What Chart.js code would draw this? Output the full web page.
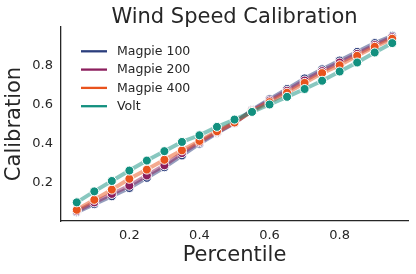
<!DOCTYPE html>
<html><head><meta charset="utf-8">
<script src="https://cdn.jsdelivr.net/npm/chart.js@4.4.1/dist/chart.umd.min.js"></script>
<style>html,body{margin:0;padding:0;background:#fff}</style>
</head><body>
<canvas id="c" width="416" height="274"></canvas>
<script>
const percentiles = [0.05,0.10,0.15,0.20,0.25,0.30,0.35,0.40,0.45,0.50,0.55,0.60,0.65,0.70,0.75,0.80,0.85,0.90,0.95];
const magpie100 = [0.051,0.092,0.132,0.174,0.226,0.280,0.340,0.400,0.455,0.505,0.572,0.627,0.679,0.733,0.779,0.824,0.868,0.913,0.950];
const magpie200 = [0.056,0.101,0.144,0.186,0.238,0.290,0.352,0.407,0.459,0.507,0.568,0.620,0.670,0.722,0.770,0.814,0.858,0.903,0.943];
const magpie400 = [0.063,0.114,0.166,0.221,0.268,0.318,0.366,0.414,0.463,0.508,0.565,0.612,0.660,0.710,0.760,0.800,0.848,0.894,0.935];
const volt      = [0.101,0.157,0.210,0.263,0.314,0.362,0.409,0.443,0.486,0.523,0.562,0.600,0.639,0.679,0.721,0.768,0.814,0.865,0.913];
const seriesNames = ['Magpie 100','Magpie 200','Magpie 400','Volt'];
const seriesValues = [magpie100, magpie200, magpie400, volt];
const xTicks = [0.2,0.4,0.6,0.8];
const yTicks = [0.2,0.4,0.6,0.8];
const titleText = 'Wind Speed Calibration';
const xLabel = 'Percentile';
const yLabel = 'Calibration';

const colors = ['#2b3e7d','#8c1f5e','#e9531d','#12907f'];
const FONT = "'DejaVu Sans', sans-serif";
const INK = '#262626';

function alpha(hex, a){
  const n = parseInt(hex.slice(1),16);
  return `rgba(${(n>>16)&255},${(n>>8)&255},${n&255},${a})`;
}

const datasets = seriesNames.map((name,i)=>({
  label: name,
  data: percentiles.map((p,j)=>({x:p, y:seriesValues[i][j]})),
  borderColor: alpha(colors[i],0.5),
  borderWidth: 4,
  backgroundColor: colors[i],
  pointBackgroundColor: colors[i],
  pointBorderColor: '#ffffff',
  pointBorderWidth: 1,
  pointRadius: 4.5,
  tension: 0,
  order: seriesNames.length - i
}));

const overlay = {
  id: 'overlay',
  afterDraw(chart){
    const ctx = chart.ctx;
    const area = chart.chartArea;
    ctx.save();
    ctx.fillStyle = INK;
    ctx.font = `21px ${FONT}`;
    ctx.textAlign = 'center';
    ctx.textBaseline = 'alphabetic';
    ctx.fillText(titleText, (area.left+area.right)/2, 22.5);
    // legend
    ctx.font = `12.5px ${FONT}`;
    ctx.textAlign = 'left';
    ctx.textBaseline = 'middle';
    chart.data.datasets.forEach((ds,i)=>{
      const y = 51.3 + i*18.3;
      ctx.strokeStyle = colors[i];
      ctx.lineWidth = 2.3;
      ctx.beginPath(); ctx.moveTo(area.left+20, y); ctx.lineTo(area.left+46, y); ctx.stroke();
      ctx.fillStyle = INK;
      ctx.fillText(ds.label, area.left+56, y+0.5);
    });
    ctx.restore();
  }
};

new Chart(document.getElementById('c'), {
  type: 'line',
  data: { datasets },
  plugins: [overlay],
  options: {
    responsive: false,
    animation: false,
    events: [],
    layout: { padding: { top: 27, right: 8, left: 0, bottom: 0 } },
    plugins: { legend: { display: false }, tooltip: { enabled: false }, title: { display: false } },
    scales: {
      x: {
        type: 'linear', min: 0.005, max: 0.995,
        afterFit(s){ s.height = 53; },
        afterBuildTicks(s){ s.ticks = xTicks.map(v=>({value:v})); },
        grid: { display: false, drawTicks: false },
        border: { display: true, color: INK, width: 1.3 },
        ticks: { color: INK, font: { family: FONT, size: 13 }, padding: 7, callback: v => v.toFixed(1), maxRotation: 0 },
        title: { display: true, text: xLabel, color: INK, font: { family: FONT, size: 21 }, padding: { top: 0, bottom: 6 } }
      },
      y: {
        type: 'linear', min: 0.006, max: 0.995,
        afterFit(s){ s.width = 61; },
        afterBuildTicks(s){ s.ticks = yTicks.map(v=>({value:v})); },
        grid: { display: false, drawTicks: false },
        border: { display: true, color: INK, width: 1.3 },
        ticks: { color: INK, font: { family: FONT, size: 13 }, padding: 8, callback: v => v.toFixed(1) },
        title: { display: true, text: yLabel, color: INK, font: { family: FONT, size: 21 }, padding: { top: 2, bottom: 2 } }
      }
    }
  }
});
</script>
</body></html>
